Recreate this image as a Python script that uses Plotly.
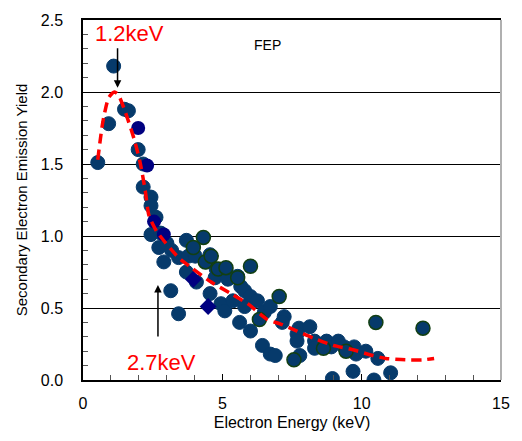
import plotly.graph_objects as go

# Series A: main dark-blue circles
a_x = [0.53, 0.92, 1.10, 1.49, 1.63, 1.98, 2.16, 2.16, 2.44, 2.44, 2.62, 2.44, 2.79, 2.72, 3.01,
       2.90, 3.18, 3.43, 3.15, 3.43, 3.71, 3.78, 4.03, 3.71, 4.07, 4.74, 5.20, 4.56, 4.95, 5.09,
       5.38, 5.55, 5.66, 5.80, 6.01, 6.26, 5.80, 5.62, 6.01, 6.51, 6.72, 6.44, 6.72, 6.90, 7.22,
       7.15, 7.75, 7.68, 7.68, 8.14, 7.78, 8.31, 8.31, 8.74, 8.91, 9.16, 9.37, 9.73, 9.80, 10.15,
       10.58, 8.95, 9.69, 10.44, 11.04, 4.56, 4.42, 4.78, 5.13]
a_y = [1.51, 1.78, 2.18, 1.88, 1.87, 1.60, 1.50, 1.34, 1.27, 1.21, 1.13, 1.01, 1.02, 0.92, 0.95,
       0.82, 0.90, 0.85, 0.62, 0.46, 0.97, 0.86, 0.86, 0.75, 0.68, 0.71, 0.70, 0.60, 0.53, 0.48,
       0.55, 0.72, 0.65, 0.62, 0.58, 0.55, 0.51, 0.40, 0.34, 0.47, 0.51, 0.24, 0.18, 0.17, 0.44,
       0.40, 0.36, 0.32, 0.27, 0.37, 0.17, 0.27, 0.22, 0.27, 0.23, 0.27, 0.23, 0.23, 0.18, 0.20,
       0.15, 0.01, 0.06, 0.00, 0.05, 0.87, 0.82, 0.77, 0.77]

# Series B: circles with dark green outline
b_x = [4.32, 3.96, 4.39, 4.60, 4.85, 5.13, 5.55, 6.01, 6.33, 7.04, 7.57, 8.63, 9.44, 10.51, 12.20]
b_y = [0.99, 0.92, 0.82, 0.86, 0.77, 0.78, 0.71, 0.79, 0.42, 0.58, 0.14, 0.22, 0.20, 0.40, 0.36]

# Series C: navy circles and diamonds
c_x = [1.98, 2.30, 2.55, 2.90]
c_y = [1.75, 1.49, 1.10, 1.01]
d_x = [3.96, 4.49]
d_y = [0.70, 0.51]

# Fit curve (red dashed)
fit_x = [0.53, 0.71, 0.92, 1.13, 1.27, 1.52, 1.84, 2.05, 2.23, 2.37, 2.65, 3.43, 3.89, 4.60,
         5.31, 5.91, 6.61, 7.07, 7.68, 8.28, 8.98, 9.69, 10.40, 10.86, 11.57, 12.20, 12.60]
fit_y = [1.53, 1.79, 1.96, 2.00, 1.98, 1.86, 1.67, 1.51, 1.32, 1.14, 1.03, 0.85, 0.78, 0.68,
         0.60, 0.53, 0.42, 0.39, 0.34, 0.29, 0.24, 0.21, 0.17, 0.15, 0.14, 0.14, 0.15]

fig = go.Figure()
mk = dict(size=14, color="#063A6B", line=dict(width=1, color="#063A6B"))
fig.add_trace(go.Scatter(x=a_x, y=a_y, mode="markers", marker=mk))
fig.add_trace(go.Scatter(x=b_x, y=b_y, mode="markers",
                         marker=dict(size=14, color="#063A6B", line=dict(width=1.5, color="#123F12"))))
fig.add_trace(go.Scatter(x=c_x, y=c_y, mode="markers",
                         marker=dict(size=14, color="#000080", line=dict(width=0))))
fig.add_trace(go.Scatter(x=d_x, y=d_y, mode="markers",
                         marker=dict(size=13, symbol="diamond", color="#000080", line=dict(width=0))))
fig.add_trace(go.Scatter(x=fit_x, y=fit_y, mode="lines",
                         line=dict(color="#FF0000", width=3.5, dash="10px,6px", shape="spline",
                                   smoothing=0.6)))

font = "Liberation Sans, Arial, sans-serif"
fig.update_layout(
    width=522, height=441,
    margin=dict(l=83, r=15, t=16, b=59),
    paper_bgcolor="white", plot_bgcolor="white",
    showlegend=False,
    font=dict(family=font, size=16, color="black"),
    xaxis=dict(range=[0, 15], dtick=5, tick0=0, ticks="inside", ticklen=6, tickcolor="black",
               showline=True, linecolor="black", linewidth=1.5, mirror=True, showgrid=False,
               zeroline=False, ticklabelstandoff=8,
               minor=dict(dtick=1, ticks="inside", ticklen=5, tickcolor="#555", showgrid=False),
               title=dict(text="Electron Energy (keV)", font=dict(size=16), standoff=6)),
    yaxis=dict(range=[0, 2.5], dtick=0.5, tick0=0, ticks="inside", ticklen=6, tickcolor="black",
               tickformat=".1f", showline=True, linecolor="black", linewidth=1.5,
               showgrid=True, gridcolor="black", gridwidth=1, zeroline=False, ticklabelstandoff=15,
               minor=dict(dtick=0.1, ticks="inside", ticklen=5, tickcolor="#555", showgrid=False),
               title=dict(text="Secondary Electron Emission Yield", font=dict(size=15), standoff=10)),
    shapes=[dict(type="line", xref="paper", yref="paper", x0=1, x1=1, y0=0, y1=1,
                 line=dict(color="#B0B0B0", width=2))],
    annotations=[
        dict(x=1.24, y=2.03, ax=0, ay=-41, xref="x", yref="y", showarrow=True,
             arrowhead=2, arrowsize=1, arrowwidth=1.5, arrowcolor="black", text=""),
        dict(x=2.69, y=0.66, ax=0, ay=53, xref="x", yref="y", showarrow=True,
             arrowhead=2, arrowsize=1, arrowwidth=1.5, arrowcolor="black", text=""),
        dict(x=(130 - 83) / 28.27, y=(382 - 31) / 146, xref="x", yref="y", showarrow=False,
             text="1.2keV", font=dict(size=22, color="#FF0000")),
        dict(x=(163 - 83) / 28.27, y=(382 - 364) / 146, xref="x", yref="y", showarrow=False,
             text="2.7keV", font=dict(size=22, color="#FF0000")),
        dict(x=(270 - 83) / 28.27, y=(382 - 42) / 146, xref="x", yref="y", showarrow=False,
             text="FEP", font=dict(size=14, color="black")),
    ],
)

fig.write_html("out.html")
